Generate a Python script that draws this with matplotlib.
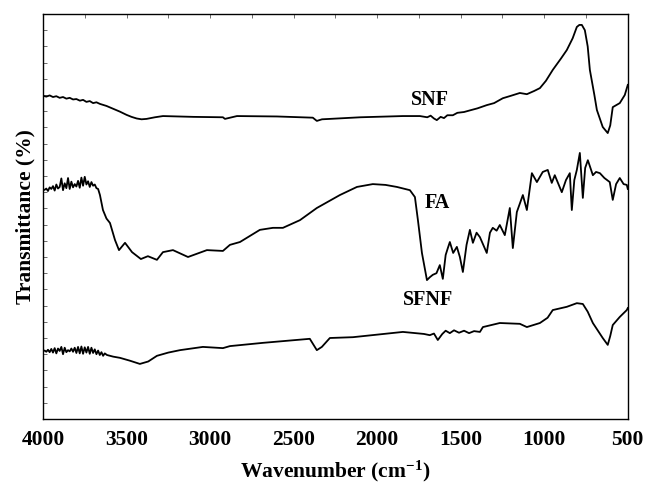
import matplotlib
matplotlib.use("Agg")
import matplotlib.pyplot as plt
from matplotlib.ticker import MultipleLocator, FixedLocator

# ---- data (wavenumber, transmittance, arbitrary offset units) ----
snf_wn = [4000, 3980, 3960, 3940, 3920, 3900, 3880, 3860, 3840, 3820, 3800, 3779, 3760, 3740,
          3720, 3700, 3680, 3659, 3620, 3580, 3540, 3500, 3470, 3439, 3410, 3380, 3330, 3282,
          3100, 2923, 2911, 2839, 2600, 2385, 2361, 2330, 2283, 2100, 1846, 1744, 1700, 1680,
          1660, 1643, 1620, 1600, 1580, 1547, 1520, 1480, 1445, 1400, 1344, 1300, 1248, 1200,
          1146, 1104, 1060, 1026, 990, 949, 900, 865, 830, 805, 790, 775, 757, 740, 727, 700,
          685, 650, 620, 605, 590, 548, 518, 500]
snf_t = [79.8, 79.6, 79.9, 79.5, 79.7, 79.3, 79.5, 79.1, 79.3, 78.9, 79.0, 78.6, 78.8, 78.3,
         78.5, 78.0, 78.2, 77.8, 77.3, 76.6, 75.9, 75.1, 74.6, 74.2, 74.0, 74.1, 74.5, 74.8,
         74.6, 74.5, 74.1, 74.8, 74.7, 74.4, 73.6, 74.0, 74.1, 74.5, 74.8, 74.8, 74.5, 74.9,
         74.2, 73.8, 74.6, 74.3, 75.0, 75.0, 75.6, 75.8, 76.2, 76.7, 77.5, 78.0, 79.2, 79.8,
         80.5, 80.2, 81.0, 81.7, 83.5, 86.2, 89.0, 91.1, 94.0, 96.8, 97.3, 97.3, 96.0, 92.0,
         86.2, 80.0, 76.3, 72.1, 70.6, 72.5, 77.0, 78.0, 80.0, 82.5]

fa_wn = [4000, 3990, 3980, 3970, 3960, 3950, 3940, 3930, 3920, 3910, 3900, 3890, 3880, 3870,
         3860, 3850, 3840, 3830, 3820, 3810, 3800, 3790, 3780, 3770, 3760, 3750, 3740, 3730,
         3720, 3710, 3700, 3690, 3680, 3670, 3659, 3641, 3620, 3599, 3569, 3545, 3509, 3467,
         3414, 3372, 3318, 3282, 3222, 3132, 3019, 2923, 2881, 2821, 2702, 2624, 2564, 2462,
         2361, 2223, 2121, 2026, 1950, 1882, 1804, 1774, 1756, 1732, 1702, 1685, 1667, 1645,
         1625, 1607, 1590, 1577, 1565, 1545, 1523, 1505, 1487, 1465, 1445, 1427, 1405, 1385,
         1365, 1344, 1325, 1308, 1285, 1266, 1236, 1206, 1188, 1164, 1128, 1104, 1074, 1044,
         1009, 979, 955, 937, 915, 895, 870, 847, 835, 820, 805, 787, 769, 755, 739, 709,
         690, 667, 640, 608, 590, 570, 548, 525, 506, 500]
fa_t = [56.5, 56.6, 56.9, 56.3, 57.2, 56.8, 57.5, 56.4, 57.9, 56.9, 57.3, 59.4, 56.5, 58.2,
        57.0, 59.5, 56.8, 58.6, 57.2, 58.0, 57.4, 58.8, 57.1, 59.6, 57.6, 59.8, 57.9, 58.7,
        57.3, 58.5, 57.6, 57.9, 57.0, 56.8, 55.3, 51.6, 49.5, 48.4, 44.2, 41.7, 43.5, 41.2,
        39.5, 40.2, 39.3, 41.2, 41.7, 40.0, 41.7, 41.5, 43.0, 43.7, 46.7, 47.2, 47.2, 49.1,
        52.1, 55.3, 57.3, 58.0, 57.8, 57.3, 56.5, 54.8, 49.1, 41.0, 34.3, 35.0, 35.6, 36.0,
        38.0, 34.6, 40.5, 42.2, 43.7, 41.0, 42.5, 40.0, 36.3, 43.0, 46.7, 43.5, 46.0, 44.9,
        43.0, 41.0, 46.0, 47.2, 46.5, 47.9, 45.4, 52.1, 42.2, 51.1, 55.3, 51.6, 60.7, 58.5,
        61.0, 61.5, 58.3, 60.2, 58.0, 56.0, 59.0, 60.7, 51.6, 59.0, 61.5, 65.7, 54.6, 62.0,
        63.9, 60.2, 61.0, 60.7, 59.5, 58.5, 54.1, 58.0, 59.5, 58.0, 57.8, 56.8]

sfnf_wn = [4000, 3990, 3980, 3970, 3960, 3950, 3940, 3930, 3920, 3910, 3900, 3890, 3880, 3870,
           3860, 3850, 3840, 3830, 3820, 3810, 3800, 3790, 3780, 3770, 3760, 3750, 3740, 3730,
           3720, 3710, 3700, 3690, 3680, 3670, 3660, 3650, 3640, 3630, 3617, 3580, 3539, 3480,
           3420, 3370, 3318, 3250, 3180, 3043, 2923, 2881, 2684, 2403, 2361, 2331, 2283, 2145,
           1846, 1720, 1685, 1660, 1637, 1610, 1590, 1565, 1540, 1510, 1480, 1450, 1420, 1385,
           1367, 1266, 1146, 1104, 1026, 980, 949, 865, 805, 769, 740, 709, 650, 620, 605,
           590, 548, 506, 500]
sfnf_t = [16.8, 16.9, 16.6, 17.1, 16.5, 17.3, 16.4, 17.5, 16.2, 17.4, 16.8, 17.8, 16.0, 17.6,
          16.5, 17.0, 16.7, 17.4, 16.6, 17.6, 16.3, 17.8, 16.2, 17.9, 16.1, 17.7, 16.4, 17.8,
          16.1, 17.6, 16.3, 17.2, 16.0, 16.9, 15.8, 16.5, 15.6, 16.2, 15.8, 15.4, 15.1, 14.4,
          13.6, 14.2, 15.6, 16.4, 17.0, 17.8, 17.5, 18.0, 18.8, 19.8, 17.0, 17.8, 20.0, 20.2,
          21.5, 21.0, 20.7, 21.1, 19.5, 21.0, 21.8, 21.2, 21.9, 21.3, 21.8, 21.2, 21.7, 21.5,
          22.7, 23.7, 23.5, 22.7, 23.7, 25.0, 26.9, 27.7, 28.6, 28.4, 26.5, 23.7, 20.0, 18.3,
          20.5, 23.2, 25.2, 26.9, 27.4]

labels = ["SNF", "FA", "SFNF"]
label_pos = [(1685, 78.8), (1640, 53.3), (1697, 29.4)]

plt.rcParams['font.family'] = ['Liberation Serif', 'DejaVu Serif']
plt.rcParams['mathtext.fontset'] = 'custom'
plt.rcParams['mathtext.rm'] = 'Liberation Serif:bold'
plt.rcParams['mathtext.bf'] = 'Liberation Serif:bold'
plt.rcParams['mathtext.it'] = 'Liberation Serif:bold'
plt.rcParams['mathtext.default'] = 'rm'

fig = plt.figure(figsize=(6.56, 5.0), dpi=100)
ax = fig.add_axes([0.0655, 0.162, 0.8915, 0.810])

for wn, t in [(snf_wn, snf_t), (fa_wn, fa_t), (sfnf_wn, sfnf_t)]:
    ax.plot(wn, t, color='black', lw=1.3, solid_joinstyle='round')

for lab, (x, y) in zip(labels, label_pos):
    ax.text(x, y, lab, ha='center', va='center', fontsize=14.5, fontweight='bold')

ax.set_xlim(4000, 500)
ax.set_ylim(0, 100)
ax.xaxis.set_major_locator(MultipleLocator(500))
ax.set_yticks([])
ax.yaxis.set_minor_locator(MultipleLocator(4))
ax.tick_params(axis='y', which='minor', direction='in', length=3, width=0.6,
               left=True, right=False, color='#555555')
ax.tick_params(axis='x', which='major', direction='in', length=0, pad=8,
               labelsize=15.5)
for lbl in ax.get_xticklabels():
    lbl.set_fontweight('bold')

sec = ax.secondary_xaxis('top')
sec.xaxis.set_major_locator(FixedLocator([3750, 3500, 3250, 3000, 2750, 2500, 2250, 2000,
                                          1750, 1500, 1250, 1000, 750]))
sec.tick_params(direction='in', length=3, width=0.6, color='#555555', labeltop=False)
sec.spines['top'].set_visible(False)

for s in ax.spines.values():
    s.set_linewidth(1.0)

ax.set_xlabel("Wavenumber (cm$^{-1}$)", fontsize=15.5, fontweight='bold', labelpad=6)
ax.set_ylabel("Transmittance (%)", fontsize=15.5, fontweight='bold', labelpad=2)

fig.savefig("out.png", dpi=100)
